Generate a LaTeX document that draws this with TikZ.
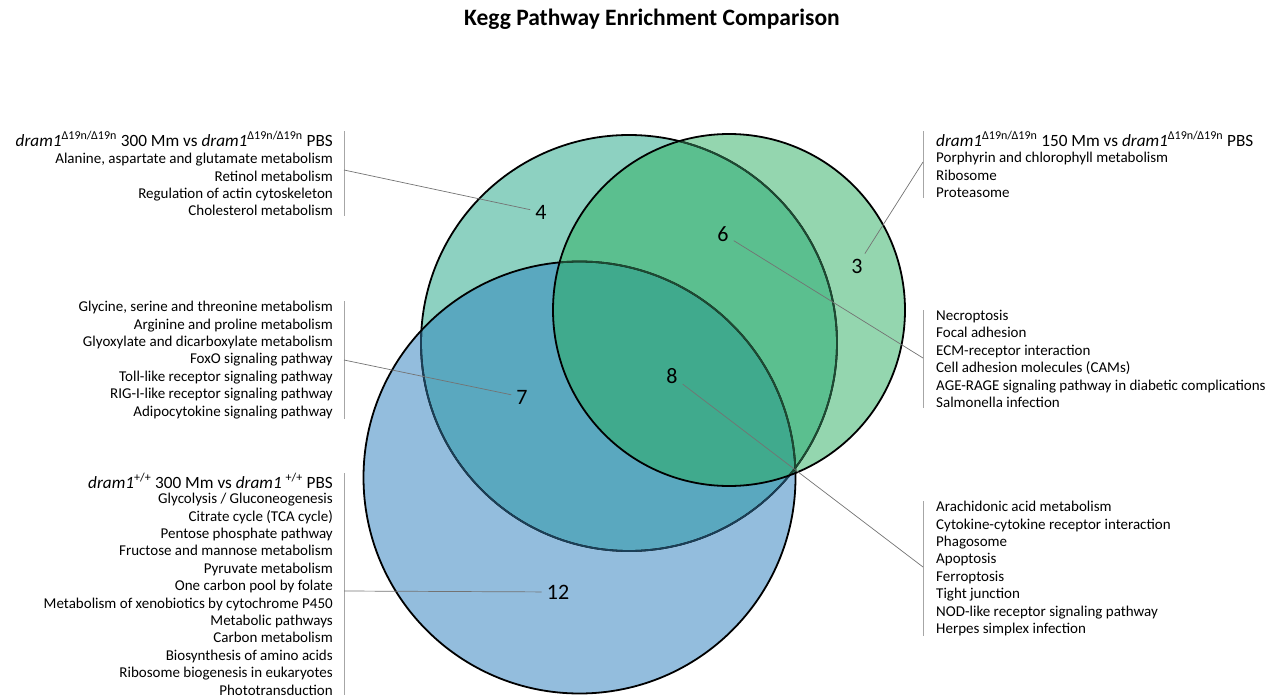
\documentclass[tikz,border=0pt]{standalone}
\usepackage{fontspec}
\setmainfont{Carlito}
\usetikzlibrary{positioning}

\definecolor{tealA}{HTML}{8DD1C1}
\definecolor{greenA}{HTML}{94D6AF}
\definecolor{blueA}{HTML}{93BDDD}
\definecolor{tgA}{HTML}{5BBF8F}
\definecolor{tbA}{HTML}{5AA8BF}
\definecolor{tgbA}{HTML}{40AA8D}
\definecolor{navyline}{HTML}{1B3F57}
\definecolor{greenline}{HTML}{1E4A33}

\newcommand{\tealset}{(629,343) circle (208)}
\newcommand{\greenset}{(729,310) circle (176)}
\newcommand{\blueset}{(579.5,477.5) circle (216)}
\newcommand{\dram}{\textit{dram1}}
\newcommand{\dko}{\textsuperscript{Δ19n/Δ19n}}

\begin{document}
\begin{tikzpicture}[x=1pt, y=-1pt,
  hdr/.style={font=\fontsize{17.2}{20}\selectfont, inner sep=0pt},
  lst/.style={font=\fontsize{15}{17.4}\selectfont, inner sep=0pt},
  num/.style={font=\fontsize{22}{24}\selectfont, inner sep=5pt},
  ring/.style={line width=1.8pt},
  bar/.style={draw=black!35, line width=0.9pt},
  leader/.style={draw=black!55, line width=0.7pt}]
  \useasboundingbox (0,0) rectangle (1277,698);

  % sets
  \fill[tealA] \tealset;
  \fill[blueA] \blueset;
  \fill[greenA] \greenset;
  \begin{scope}
    \clip \tealset;
    \fill[tgA] \greenset;
    \fill[tbA] \blueset;
  \end{scope}
  \begin{scope}
    \clip \greenset;
    \fill[tgbA] \blueset;
  \end{scope}
  \draw[ring] \tealset;
  \begin{scope}
    \clip \blueset;
    \draw[ring, navyline] \tealset;
  \end{scope}
  \begin{scope}
    \clip \greenset;
    \draw[ring, greenline] \tealset;
  \end{scope}
  \draw[ring] \blueset;
  \begin{scope}
    \clip \greenset;
    \draw[ring, greenline] \blueset;
  \end{scope}
  \draw[ring] \greenset;

  \node[font=\bfseries\fontsize{23.5}{26}\selectfont] (title) at (652,19) {Kegg Pathway Enrichment Comparison};

  % left lists
  \node[hdr, anchor=east] (tlh) at (333,139) {\dram\dko{} 300 Mm vs \dram\dko{} PBS};
  \node[lst, anchor=north east, align=right] (tl) at (333,153) {Alanine, aspartate and glutamate metabolism\\Retinol metabolism\\Regulation of actin cytoskeleton\\Cholesterol metabolism};
  \node[lst, anchor=north east, align=right] (ml) at (333,301) {Glycine, serine and threonine metabolism\\Arginine and proline metabolism\\Glyoxylate and dicarboxylate metabolism\\FoxO signaling pathway\\Toll-like receptor signaling pathway\\RIG-I-like receptor signaling pathway\\Adipocytokine signaling pathway};
  \node[hdr, anchor=east] (blh) at (333,481) {\dram\textsuperscript{+/+} 300 Mm vs \dram{} \textsuperscript{+/+} PBS};
  \node[lst, anchor=north east, align=right] (bl) at (333,493) {Glycolysis / Gluconeogenesis\\Citrate cycle (TCA cycle)\\Pentose phosphate pathway\\Fructose and mannose metabolism\\Pyruvate metabolism\\One carbon pool by folate\\Metabolism of xenobiotics by cytochrome P450\\Metabolic pathways\\Carbon metabolism\\Biosynthesis of amino acids\\Ribosome biogenesis in eukaryotes\\Phototransduction};

  % right lists
  \node[hdr, anchor=west] (trh) at (936,139) {\dram\dko{} 150 Mm vs \dram\dko{} PBS};
  \node[lst, anchor=north west, align=left] (tr) at (936,152) {Porphyrin and chlorophyll metabolism\\Ribosome\\Proteasome};
  \node[lst, anchor=north west, align=left] (mr) at (936,310) {Necroptosis\\Focal adhesion\\ECM-receptor interaction\\Cell adhesion molecules (CAMs)\\AGE-RAGE signaling pathway in diabetic complications\\Salmonella infection};
  \node[lst, anchor=north west, align=left] (br) at (936,501) {Arachidonic acid metabolism\\Cytokine-cytokine receptor interaction\\Phagosome\\Apoptosis\\Ferroptosis\\Tight junction\\NOD-like receptor signaling pathway\\Herpes simplex infection};

  % brackets
  \draw[bar] ([xshift=11pt]tlh.north east) -- ([xshift=11pt]tl.south east);
  \draw[bar] ([xshift=11pt]ml.north east) -- ([xshift=11pt]ml.south east);
  \draw[bar] ([xshift=11pt]blh.north east) -- ([xshift=11pt]bl.south east);
  \draw[bar] ([xshift=-13pt]trh.north west) -- ([xshift=-13pt]tr.south west);
  \draw[bar] ([xshift=-13pt]mr.north west) -- ([xshift=-13pt]mr.south west);
  \draw[bar] ([xshift=-13pt]br.north west) -- ([xshift=-13pt]br.south west);

  % counts
  \node[num] (n4) at (541,212) {4};
  \node[num] (n7) at (522,397) {7};
  \node[num] (n12) at (558,592) {12};
  \node[num] (n3) at (857,266) {3};
  \node[num] (n6) at (723,234) {6};
  \node[num] (n8) at (672,376) {8};

  \coordinate (b4) at (344,170);
  \coordinate (b7) at (344,360);
  \coordinate (b12) at (344,591);
  \coordinate (b3) at (923,162);
  \coordinate (b6) at (923,358);
  \coordinate (b8) at (923,567);
  \draw[leader] (b4) -- (n4);
  \draw[leader] (b7) -- (n7);
  \draw[leader] (b12) -- (n12);
  \draw[leader] (b3) -- (n3);
  \draw[leader] (b6) -- (n6);
  \draw[leader] (b8) -- (n8);
\end{tikzpicture}
\end{document}
